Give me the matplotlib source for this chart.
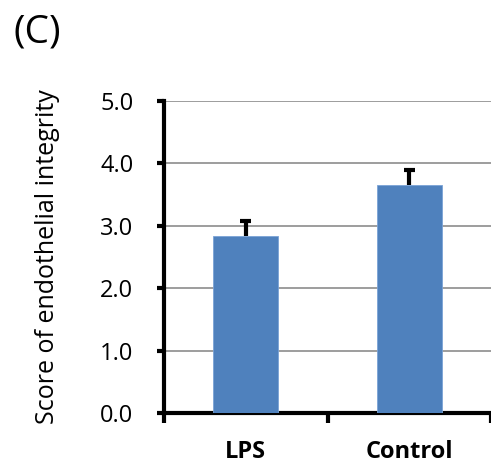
import matplotlib.pyplot as plt
import matplotlib.transforms as mtransforms
import numpy as np

plt.rcParams['font.family'] = ['Open Sans', 'DejaVu Sans']

# chart values
groups = ['LPS', 'Control']
scores = [2.83, 3.66]
errors = [0.25, 0.23]
yticks = [0.0, 1.0, 2.0, 3.0, 4.0, 5.0]

fig = plt.figure(figsize=(4.91, 4.65), dpi=100)
ax = fig.add_axes([164 / 491, 1 - 413 / 465, 327 / 491, 312 / 465])

x = np.arange(len(groups))
tops = np.array(scores) + np.array(errors)
ax.bar(x, scores, width=0.4, color='#4f81bd', edgecolor='#7aa3d6', linewidth=0.6, zorder=3)
# upper error bars only
ax.vlines(x, scores, tops, color='black', linewidth=3, zorder=4)
ax.hlines(tops, x - 0.035, x + 0.035, color='black', linewidth=3, zorder=4)

ax.set_xlim(-0.5, 1.5)
ax.set_ylim(0, 5)
ax.set_yticks(yticks)
ax.set_yticklabels(['%.1f' % v for v in yticks], fontsize=17)
ax.yaxis.grid(True, color='#8c8c8c', linewidth=1.2, zorder=0)
ax.set_axisbelow(True)

# category ticks sit between the groups, labels centred under bars
ax.set_xticks([-0.5, 0.5, 1.5])
ax.set_xticklabels([])
ax.tick_params(axis='x', direction='out', length=7, width=3)
ax.tick_params(axis='y', direction='out', length=5, width=3, pad=17)
trans = mtransforms.blended_transform_factory(ax.transData, fig.transFigure)
for xi, g in zip(x, groups):
    ax.text(xi, 0.003, g, transform=trans, ha='center', va='bottom',
            fontsize=17, fontweight='bold')

for s in ['top', 'right']:
    ax.spines[s].set_visible(False)
for s in ['left', 'bottom']:
    ax.spines[s].set_linewidth(3)

ax.set_ylabel('Score of endothelial integrity', fontsize=18, labelpad=29)
fig.text(0.028, 0.97, '(C)', fontsize=28, va='top', ha='left')

fig.savefig('out.png', dpi=100)
